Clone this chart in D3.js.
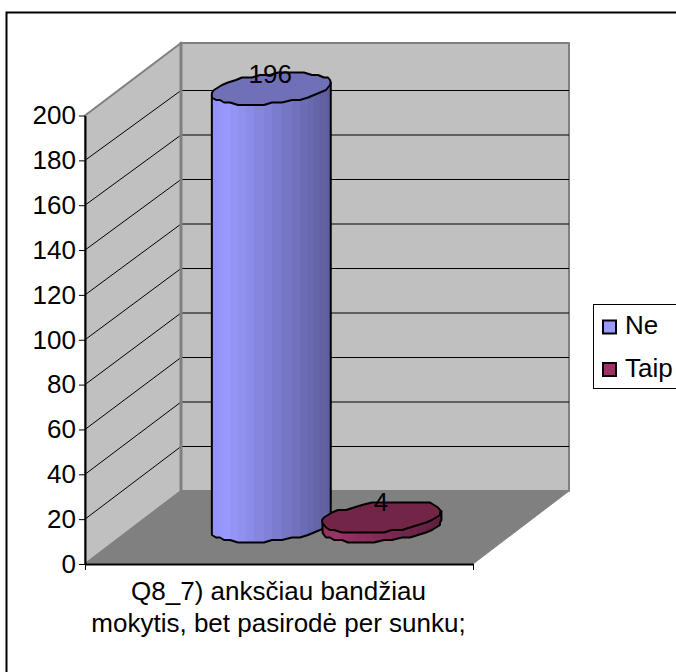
<!DOCTYPE html>
<html><head><meta charset="utf-8">
<script src="https://cdn.jsdelivr.net/npm/d3@7"></script>
<style>html,body{margin:0;padding:0;background:#fff}svg{display:block}text{font-family:"Liberation Sans",Arial,sans-serif;fill:#000}</style>
</head><body><svg id="c" width="676" height="672"></svg>
<script>
const seriesNames = ["Ne","Taip"];
const seriesValues = [196,4];
const yTicks = [0,20,40,60,80,100,120,140,160,180,200];
const categoryLines = ["Q8_7) anksčiau bandžiau","mokytis, bet pasirodė per sunku;"];
const sideColors = ["#9999ff","#993366"];
const topColors = ["#7070b8","#732548"];

const svg = d3.select("#c");
svg.append("path").attr("d","M6.5,672V12.5H676").attr("fill","none").attr("stroke","#000").attr("stroke-width",2);

const y = d3.scaleLinear().domain([0,200]).range([564,115.5]);
const yBack = d3.scaleLinear().domain([0,200]).range([491,46]);
const yBar = d3.scaleLinear().domain([0,200]).range([564,117.4]);
const x = d3.scaleLinear().domain([0,1]).range([85,473]);
const DX=96, DY=-72.5, top3=201.35;
const F=(u,v)=>[x(u),y(v)];
const B=(u,v)=>[x(u)+DX,yBack(v)];
const line=d3.line();
const poly=(pts,fill,stroke,sw)=>svg.append("path").attr("d",line(pts)+"Z").attr("fill",fill).attr("stroke",stroke||"none").attr("stroke-width",sw||0).attr("stroke-linejoin","round");
// walls
poly([B(0,0),B(1,0),B(1,top3),B(0,top3)],"#c0c0c0","#808080",2);
poly([F(0,0),B(0,0),B(0,top3),F(0,200)],"#c0c0c0","#808080",2);
poly([F(0,0),F(1,0),B(1,0),B(0,0)],"#808080","#808080",1);
// gridlines
yTicks.filter(t=>t>0&&t<200).forEach(t=>{
  svg.append("path").attr("d",line([F(0,t),B(0,t),B(1,t)])).attr("fill","none").attr("stroke","#000").attr("stroke-width",1);
});
poly([B(0,0),B(0,top3)],"none","#808080",3);
// axes
const ax=svg.append("g").attr("transform","translate(85,0)").call(d3.axisLeft(y).tickValues(yTicks).tickSize(6).tickPadding(3).tickSizeOuter(0));
ax.selectAll("text").style("font-size","26px");
ax.selectAll("line").attr("stroke","#000");
ax.select("path").attr("stroke","#000").attr("stroke-width",2);
const bx=svg.append("g").attr("transform","translate(0,564)").call(d3.axisBottom(x).tickValues([0,1]).tickSize(6).tickFormat("").tickSizeOuter(0));
bx.selectAll("line").attr("stroke","#000");
bx.select("path").attr("stroke","#000").attr("stroke-width",2);

// cylinders
const centers=[0.3515,0.6367], rU=0.1431, rZ=0.222, zMid=0.52, N=40;
const snap=p=>[Math.round(p[0]/2)*2,Math.round(p[1]/2.5)*2.5];
const ringAt=(cu,v)=>d3.range(N).map(i=>{
  const t=i/N*2*Math.PI+0.08, z=zMid+rZ*Math.sin(t);
  return [x(cu+rU*Math.cos(t))+DX*z, yBar(v)+DY*z];
});
seriesValues.forEach((val,k)=>{
  const cu=centers[k];
  const bot0=ringAt(cu,0), top0=ringAt(cu,val);
  const iL=d3.minIndex(top0,p=>p[0]), iR=d3.maxIndex(top0,p=>p[0]);
  const idx=[];
  for(let i=iR;;i=(i+N-1)%N){idx.push(i);if(i===iL)break;}
  const lower=d3.mean(idx,i=>top0[i][1])>d3.mean(top0,p=>p[1]);
  const arc=lower?idx:(()=>{const a=[];for(let i=iR;;i=(i+1)%N){a.push(i);if(i===iL)break;}return a;})();
  const snapKeep=(p,i)=>(i===iL||i===iR)?p:snap(p);
  const top=top0.map(snapKeep), bot=bot0.map(snapKeep);
  const base=d3.color(sideColors[k]);
  const minX=top0[iL][0], maxX=top0[iR][0];
  for(let j=0;j<arc.length-1;j++){
    const a=arc[j],b=arc[j+1];
    const f=((top[a][0]+top[b][0])/2-minX)/(maxX-minX);
    const s=f<0.12?0.96+f*0.33:1-(f-0.12)*0.45;
    const c=d3.rgb(base.r*s,base.g*s,base.b*s).formatHex();
    poly([top[a],top[b],bot[b],bot[a]],c,c,0.4);
  }
  const outline=[top[arc[0]],...arc.map(i=>bot[i]),top[arc[arc.length-1]]];
  svg.append("path").attr("d",line(outline)).attr("fill","none").attr("stroke","#000").attr("stroke-width",2).attr("stroke-linejoin","round");
  poly(top,topColors[k],"#000",2);
  svg.append("text").attr("x",d3.mean(top0,p=>p[0])-1).attr("y",yBar(val)+DY*zMid-6)
    .attr("text-anchor","middle").style("font-size","26px").text(val);
});

// category label
svg.append("g").selectAll("text").data(categoryLines).join("text")
 .attr("x",278.5).attr("y",(d,i)=>600+i*32).attr("text-anchor","middle").style("font-size","26px").text(d=>d);

// legend
svg.append("rect").attr("x",593.5).attr("y",304.5).attr("width",90).attr("height",84).attr("fill","#fff").attr("stroke","#000");
seriesNames.forEach((n,i)=>{
  const yy=327+i*42.5;
  svg.append("rect").attr("x",603).attr("y",yy-6.5).attr("width",13).attr("height",13).attr("fill",sideColors[i]).attr("stroke","#000").attr("stroke-width",2);
  svg.append("text").attr("x",625).attr("y",yy+7).style("font-size","26px").text(n);
});
</script></body></html>
